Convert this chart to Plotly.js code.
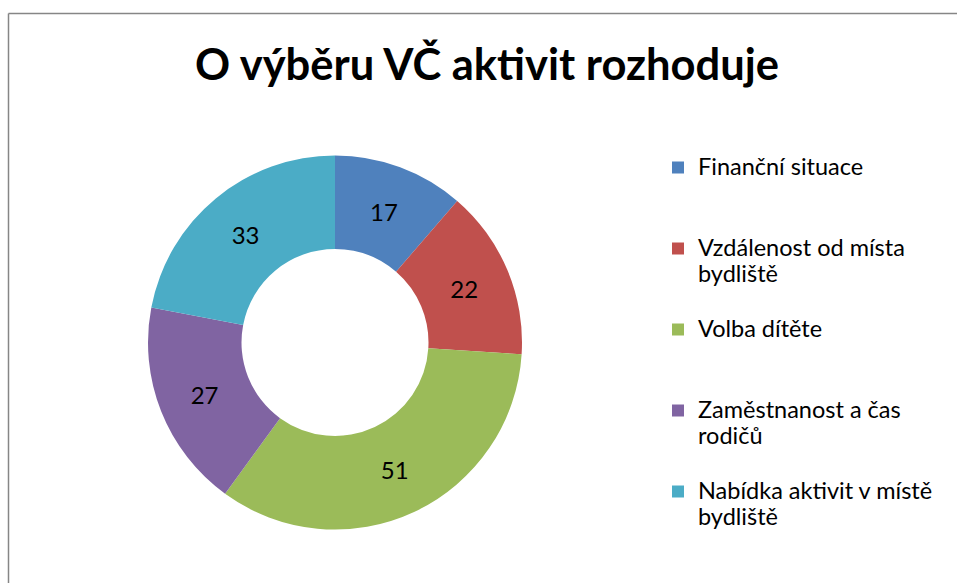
<!DOCTYPE html>
<html>
<head>
<meta charset="utf-8">
<script src="https://cdn.plot.ly/plotly-3.0.1.min.js"></script>
<style>html,body{margin:0;padding:0;background:#fff}#chart{width:957px;height:583px}</style>
</head>
<body>
<div id="chart"></div>
<script>
const categories = ["Finanční situace", "Vzdálenost od místa bydliště", "Volba dítěte", "Zaměstnanost a čas rodičů", "Nabídka aktivit v místě bydliště"];
const values = [17, 22, 51, 27, 33];
const colors = ["#4F81BD", "#C0504D", "#9BBB59", "#8064A2", "#4BACC6"];
const chartTitle = "O výběru VČ aktivit rozhoduje";

function wrap(s, n, pad) {
  const words = s.split(" "); const lines = []; let cur = "";
  for (const w of words) {
    if (cur && (cur + " " + w).length > n) { lines.push(cur); cur = w; }
    else cur = cur ? cur + " " + w : w;
  }
  if (cur) lines.push(cur);
  const out = lines.map(l => '<span style="font-size:23.5px">' + l + '</span>');
  if (pad) while (out.length < 3) out.push(" ");
  return out.join("<br>");
}
const legendLabels = categories.map((c, i) => wrap(c, 23, i < categories.length - 1));

const W = 957, H = 583;
const cx = 335, cy = 342.5, R = 187;
const trace = {
  type: "pie",
  labels: legendLabels,
  values: values,
  text: values.map(String),
  textinfo: "text",
  textposition: "inside",
  insidetextorientation: "horizontal",
  textfont: {family: "Lato, sans-serif", size: 24, color: "#000"},
  marker: {colors: colors, line: {width: 0}},
  hole: 0.5,
  sort: false,
  direction: "clockwise",
  rotation: 0,
  domain: {x: [(cx - R) / W, (cx + R) / W], y: [1 - (cy + R) / H, 1 - (cy - R) / H]},
  hoverinfo: "skip"
};
const layout = {
  width: W, height: H,
  margin: {l: 0, r: 0, t: 0, b: 0},
  paper_bgcolor: "#fff",
  font: {family: "Lato, sans-serif", color: "#000"},
  title: {text: chartTitle, font: {family: "Lato, sans-serif", size: 43.5, weight: "bold", color: "#000"},
          x: 487 / W, xanchor: "center", y: 1 - 65 / H, yanchor: "middle"},
  showlegend: true,
  legend: {x: 658 / W, xanchor: "left", y: 1 - 148 / H, yanchor: "top", valign: "top",
           font: {family: "Lato, sans-serif", size: 20, color: "#000"}, bgcolor: "rgba(0,0,0,0)"},
  shapes: [
    {type: "line", xref: "paper", yref: "paper", x0: 8.5 / W, x1: 1.05, y0: 1 - 13.5 / H, y1: 1 - 13.5 / H, line: {color: "#868686", width: 1.5}},
    {type: "line", xref: "paper", yref: "paper", x0: 8.5 / W, x1: 8.5 / W, y0: -0.05, y1: 1 - 13.5 / H, line: {color: "#868686", width: 1.5}}
  ]
};
Plotly.newPlot("chart", [trace], layout, {staticPlot: true, displayModeBar: false});
</script>
</body>
</html>
